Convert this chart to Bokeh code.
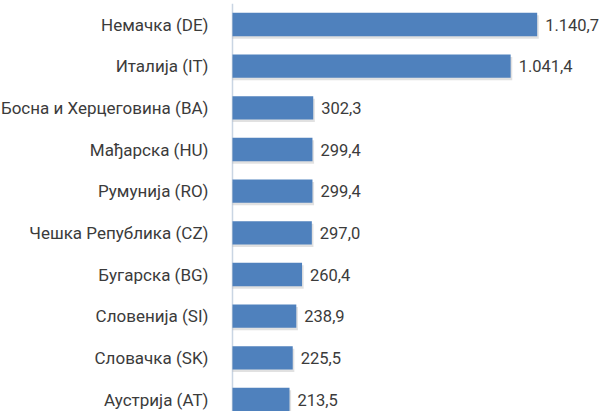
from bokeh.plotting import figure
from bokeh.models import ColumnDataSource, Range1d, Span
from bokeh.core.properties import value
from bokeh.transform import dodge
from bokeh.embed import file_html
from bokeh.resources import INLINE

countries = ["Немачка (DE)", "Италија (IT)", "Босна и Херцеговина (BA)", "Мађарска (HU)",
             "Румунија (RO)", "Чешка Република (CZ)", "Бугарска (BG)", "Словенија (SI)",
             "Словачка (SK)", "Аустрија (AT)"]
values = [1140.7, 1041.4, 302.3, 299.4, 299.4, 297.0, 260.4, 238.9, 225.5, 213.5]
value_labels = ["1.140,7", "1.041,4", "302,3", "299,4", "299,4", "297,0", "260,4", "238,9", "225,5", "213,5"]

FONT = "Roboto"
TEXT_COLOR = "#3b3b3b"
idx = list(range(len(countries)))
src = ColumnDataSource(dict(y=idx, v=values, lab=value_labels, cat=countries,
                            zero=[0] * len(idx)))

p = figure(width=600, height=411, output_backend="svg", toolbar_location=None,
           x_range=Range1d(-868.6, 1377.8), y_range=Range1d(9.288, -0.504),
           min_border_left=0, min_border_top=3, min_border_bottom=0, min_border_right=0)
p.outline_line_color = None
p.background_fill_color = "white"
p.border_fill_color = "white"
p.grid.visible = False
p.axis.visible = False

# category axis line
p.add_layout(Span(location=0, dimension="height", line_color="#c9d5e3",
                  line_width=1.5, level="underlay"))

# soft shadow under bars
p.hbar(y=dodge('y', 0.06, range=p.y_range), left=0, right=dodge('v', 6, range=p.x_range),
       height=0.56, source=src, fill_color="#9a9a9a", fill_alpha=0.3, line_color=None)
p.hbar(y='y', left=0, right='v', height=0.56, source=src,
       fill_color="#4f81bd", line_color=None)

# value labels
p.text(x='v', y='y', text='lab', source=src, x_offset=8,
       text_align="left", text_baseline="middle",
       text_font=value(FONT), text_font_size=value("16.5px"), text_color=TEXT_COLOR)

# category labels
p.text(x='zero', y='y', text='cat', source=src, x_offset=-24,
       text_align="right", text_baseline="middle",
       text_font=value(FONT), text_font_size=value("17px"), text_color=TEXT_COLOR)

open("out.html", "w").write(file_html(p, INLINE))
